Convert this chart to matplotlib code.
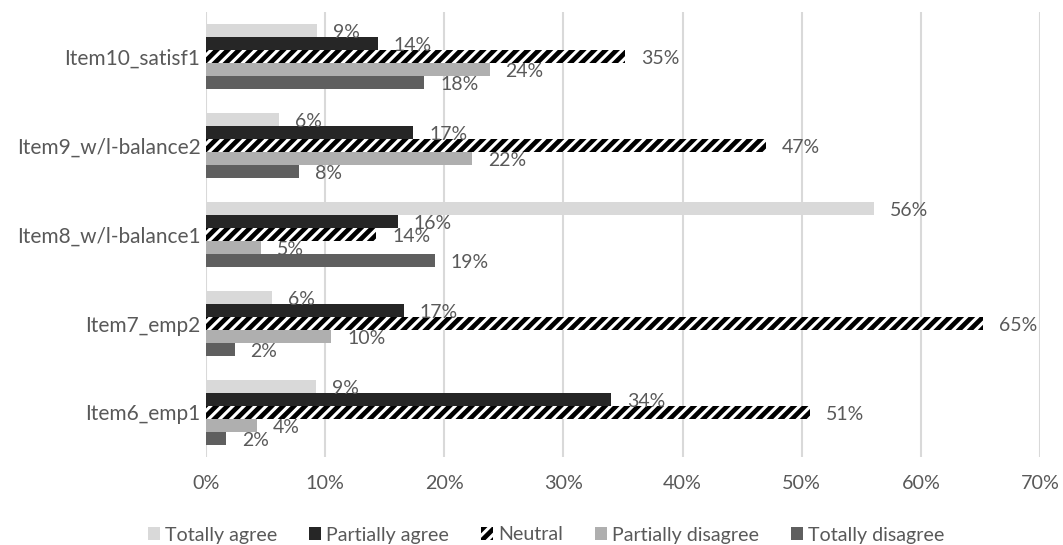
import matplotlib
matplotlib.use("Agg")
import matplotlib.pyplot as plt
import numpy as np

plt.rcParams['font.family'] = ['Lato', 'DejaVu Sans']
plt.rcParams['hatch.linewidth'] = 3.4

categories = ["Item6_emp1", "Item7_emp2", "Item8_w/l-balance1", "Item9_w/l-balance2", "Item10_satisf1"]
series = ["Totally agree", "Partially agree", "Neutral", "Partially disagree", "Totally disagree"]
totally_agree = [9.2, 5.5, 56.1, 6.1, 9.3]
partially_agree = [34.0, 16.6, 16.1, 17.4, 14.4]
neutral = [50.7, 65.2, 14.3, 47.0, 35.2]
partially_disagree = [4.3, 10.5, 4.6, 22.3, 23.8]
totally_disagree = [1.7, 2.4, 19.2, 7.8, 18.3]
x_ticks = [0, 10, 20, 30, 40, 50, 60, 70]

values = [totally_agree, partially_agree, neutral, partially_disagree, totally_disagree]
colors = ["#d9d9d9", "#262626", "white", "#afafaf", "#5f5f5f"]
text_color = "#595959"

fig = plt.figure(figsize=(10.63, 5.45), dpi=100)
ax = fig.add_axes([206/1063, 1 - 457/545, (1040 - 206)/1063, (457 - 12)/545])

y = np.arange(len(categories))
h = 0.146
offsets = [2*h, h, 0, -h, -2*h]
handles = []
for vals, col, off, name in zip(values, colors, offsets, series):
    if name == "Neutral":
        b = ax.barh(y + off, vals, height=h, color="white", edgecolor="black",
                    linewidth=0, hatch="///", label=name, zorder=3)
    else:
        b = ax.barh(y + off, vals, height=h, color=col, linewidth=0, label=name, zorder=3)
    handles.append(b)
    for yi, v in zip(y, vals):
        ax.annotate(f"{round(v):.0f}%", xy=(v, yi + off), xytext=(16, -2),
                    textcoords="offset pixels", ha="left", va="center",
                    fontsize=14, color=text_color, zorder=4)

ax.set_xlim(0, 70)
ax.set_ylim(-0.5, len(categories) - 0.5)
ax.set_xticks(x_ticks)
ax.set_xticklabels([f"{t}%" for t in x_ticks])
ax.set_yticks(y)
ax.set_yticklabels(categories)
ax.tick_params(axis='both', length=0, colors=text_color)
ax.tick_params(axis='x', pad=13, labelsize=14.2)
ax.tick_params(axis='y', pad=4, labelsize=15)
for s in ax.spines.values():
    s.set_visible(False)
ax.grid(axis='x', color="#d9d9d9", linewidth=1.5, zorder=0)
ax.set_axisbelow(True)

leg = fig.legend(handles=handles, labels=series, loc="center", bbox_to_anchor=(546/1063, 1 - 535/545),
                 ncol=5, frameon=False, fontsize=14.1, handlelength=0.61, handleheight=0.61,
                 handletextpad=0.26, columnspacing=1.63, labelcolor=text_color,
                 borderpad=0, borderaxespad=0)

fig.savefig("out.png", dpi=100)
